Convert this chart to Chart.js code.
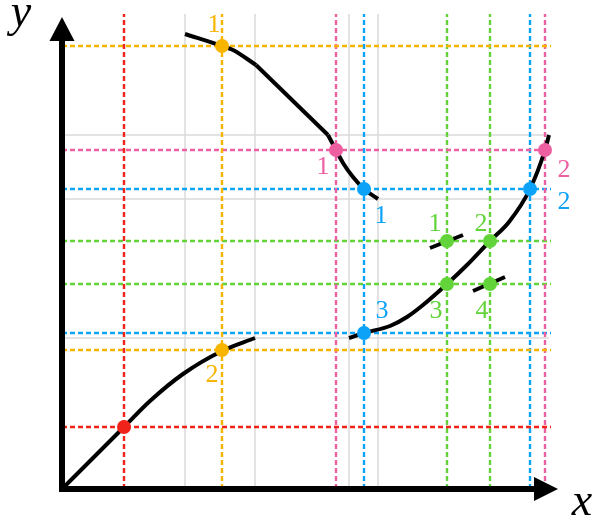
<!DOCTYPE html>
<html>
<head>
<meta charset="utf-8">
<script src="https://cdn.jsdelivr.net/npm/chart.js@4"></script>
<style>
  html, body { margin: 0; padding: 0; background: #fff; }
  canvas { display: block; }
</style>
</head>
<body>
<canvas id="chart" width="596" height="523"></canvas>
<script>
// curve pieces, [x, y]
const curveA = [[0, 0], [0.62, 0.62], [1.24, 1.24], [1.76, 1.76], [2.42, 2.3], [3.2, 2.76], [3.86, 3.02]];
const curveB1 = [[2.46, 9.1], [3.2, 8.86], [3.42, 8.78], [3.88, 8.48]];
const curveB2 = [[3.88, 8.48], [5.32, 7.08]];
const curveB3 = [[5.32, 7.08], [5.48, 6.78], [5.62, 6.52], [5.82, 6.24], [6.04, 6.0], [6.32, 5.8]];
const curveC = [[5.74, 3.02], [6.04, 3.12], [6.56, 3.26], [6.9, 3.44], [7.22, 3.68], [7.7, 4.1], [8.1, 4.48],
                [8.56, 4.96], [8.94, 5.34], [9.36, 6.0], [9.66, 6.78], [9.74, 7.08]];
const tangent1 = [[7.36, 4.82], [8.02, 5.08]];
const tangent4 = [[8.22, 3.96], [8.86, 4.24]];

// marked points and their labels
const redPts = [[1.24, 1.24]];
const redLabels = [""];
const orangePts = [[3.2, 8.86], [3.2, 2.78]];
const orangeLabels = ["1", "2"];
const pinkPts = [[5.48, 6.78], [9.66, 6.78]];
const pinkLabels = ["1", "2"];
const bluePts = [[6.04, 6.0], [9.36, 6.0], [6.04, 3.12]];
const blueLabels = ["1", "2", "3"];
const greenPts = [[7.7, 4.96], [8.56, 4.96], [7.7, 4.1], [8.56, 4.1]];
const greenLabels = ["1", "2", "3", "4"];

// light grid
const gridX = [2.46, 3.86, 5.74, 6.32];
const gridY = [7.08, 5.8, 3.02];
const gridTop = 9.5;
const gridRight = 9.74;
const guideTop = 9.5;
const guideRight = 9.78;

// axes
const axisTop = 8.96;
const axisRight = 9.44;
const arrowTipY = 9.44;
const arrowTipX = 9.92;

const COLORS = {
    red: "#f0231b",
    orange: "#f7b500",
    pink: "#ee5fa2",
    blue: "#0ba2f7",
    green: "#62d43a"
};

// pixel offsets of the number labels from their points
const labelOffsets = {
    red: [[0, 0]],
    orange: [[-8, -21], [-10, 25]],
    pink: [[-13, 17], [19, 20]],
    blue: [[17, 27], [34, 13], [18, -22]],
    green: [[-12, -17], [-9, -17], [-11, 27], [-8, 27]]
};

const toXY = arr => arr.map(p => ({ x: p[0], y: p[1] }));
const uniq = a => [...new Set(a)];

const datasets = [];

function addLine(pts, style) {
    datasets.push(Object.assign({
        data: toXY(pts),
        pointRadius: 0,
        fill: false,
        borderCapStyle: "butt"
    }, style));
}

// grid lines
for (const gx of gridX) addLine([[gx, 0], [gx, gridTop]], { borderColor: "#dadada", borderWidth: 1.5, order: 6 });
for (const gy of gridY) addLine([[0, gy], [gridRight, gy]], { borderColor: "#dadada", borderWidth: 1.5, order: 6 });

// dashed guides
const groups = [
    ["red", redPts, redLabels],
    ["orange", orangePts, orangeLabels],
    ["pink", pinkPts, pinkLabels],
    ["blue", bluePts, blueLabels],
    ["green", greenPts, greenLabels]
];
for (const [name, pts] of groups) {
    const dash = { borderColor: COLORS[name], borderWidth: 2.4, borderDash: [5, 3], order: 5 };
    for (const vx of uniq(pts.map(p => p[0]))) addLine([[vx, 0], [vx, guideTop]], dash);
    for (const hy of uniq(pts.map(p => p[1]))) addLine([[0, hy], [guideRight, hy]], dash);
}

// curves
const curveStyle = { borderColor: "#000", borderWidth: 4, cubicInterpolationMode: "monotone", order: 4 };
for (const c of [curveA, curveB1, curveB2, curveB3, curveC, tangent1, tangent4]) addLine(c, curveStyle);

// axes and arrow heads
addLine([[0, axisTop], [0, 0], [axisRight, 0]], { borderColor: "#000", borderWidth: 6, borderJoinStyle: "miter", order: 3 });
addLine([[-0.25, axisTop], [0, arrowTipY], [0.25, axisTop], [-0.25, axisTop]],
    { borderColor: "#000", borderWidth: 0, backgroundColor: "#000", fill: "shape", order: 3 });
addLine([[axisRight, 0.24], [arrowTipX, 0], [axisRight, -0.24], [axisRight, 0.24]],
    { borderColor: "#000", borderWidth: 0, backgroundColor: "#000", fill: "shape", order: 3 });

// points
for (const [name, pts, labels] of groups) {
    datasets.push({
        data: toXY(pts),
        showLine: false,
        pointRadius: 7,
        pointBorderWidth: 0,
        pointBackgroundColor: COLORS[name],
        pointBorderColor: COLORS[name],
        labels: labels,
        labelColor: COLORS[name],
        labelOffsets: labelOffsets[name],
        order: 1
    });
}

const pointLabels = {
    id: "pointLabels",
    afterDatasetsDraw(chart) {
        const ctx = chart.ctx;
        const xs = chart.scales.x, ys = chart.scales.y;
        ctx.save();
        ctx.font = "26px 'Liberation Serif', serif";
        ctx.textAlign = "center";
        ctx.textBaseline = "middle";
        chart.data.datasets.forEach(ds => {
            if (!ds.labels) return;
            ctx.fillStyle = ds.labelColor;
            ds.data.forEach((p, i) => {
                const t = ds.labels[i];
                if (!t) return;
                const off = ds.labelOffsets[i];
                ctx.fillText(t, xs.getPixelForValue(p.x) + off[0], ys.getPixelForValue(p.y) + off[1]);
            });
        });
        // axis names
        ctx.fillStyle = "#000";
        ctx.font = "italic 46px 'Liberation Serif', serif";
        ctx.textBaseline = "alphabetic";
        ctx.fillText("y", xs.getPixelForValue(-0.82), ys.getPixelForValue(9.26));
        ctx.fillText("x", xs.getPixelForValue(10.4), ys.getPixelForValue(-0.52));
        ctx.restore();
    }
};

new Chart(document.getElementById("chart"), {
    type: "line",
    data: { datasets },
    options: {
        responsive: false,
        animation: false,
        events: [],
        layout: { padding: 0, autoPadding: false },
        plugins: { legend: { display: false }, tooltip: { enabled: false } },
        scales: {
            x: { type: "linear", min: -1.24, max: 10.68, display: false },
            y: { type: "linear", min: -0.68, max: 9.78, display: false }
        }
    },
    plugins: [pointLabels]
});
</script>
</body>
</html>
